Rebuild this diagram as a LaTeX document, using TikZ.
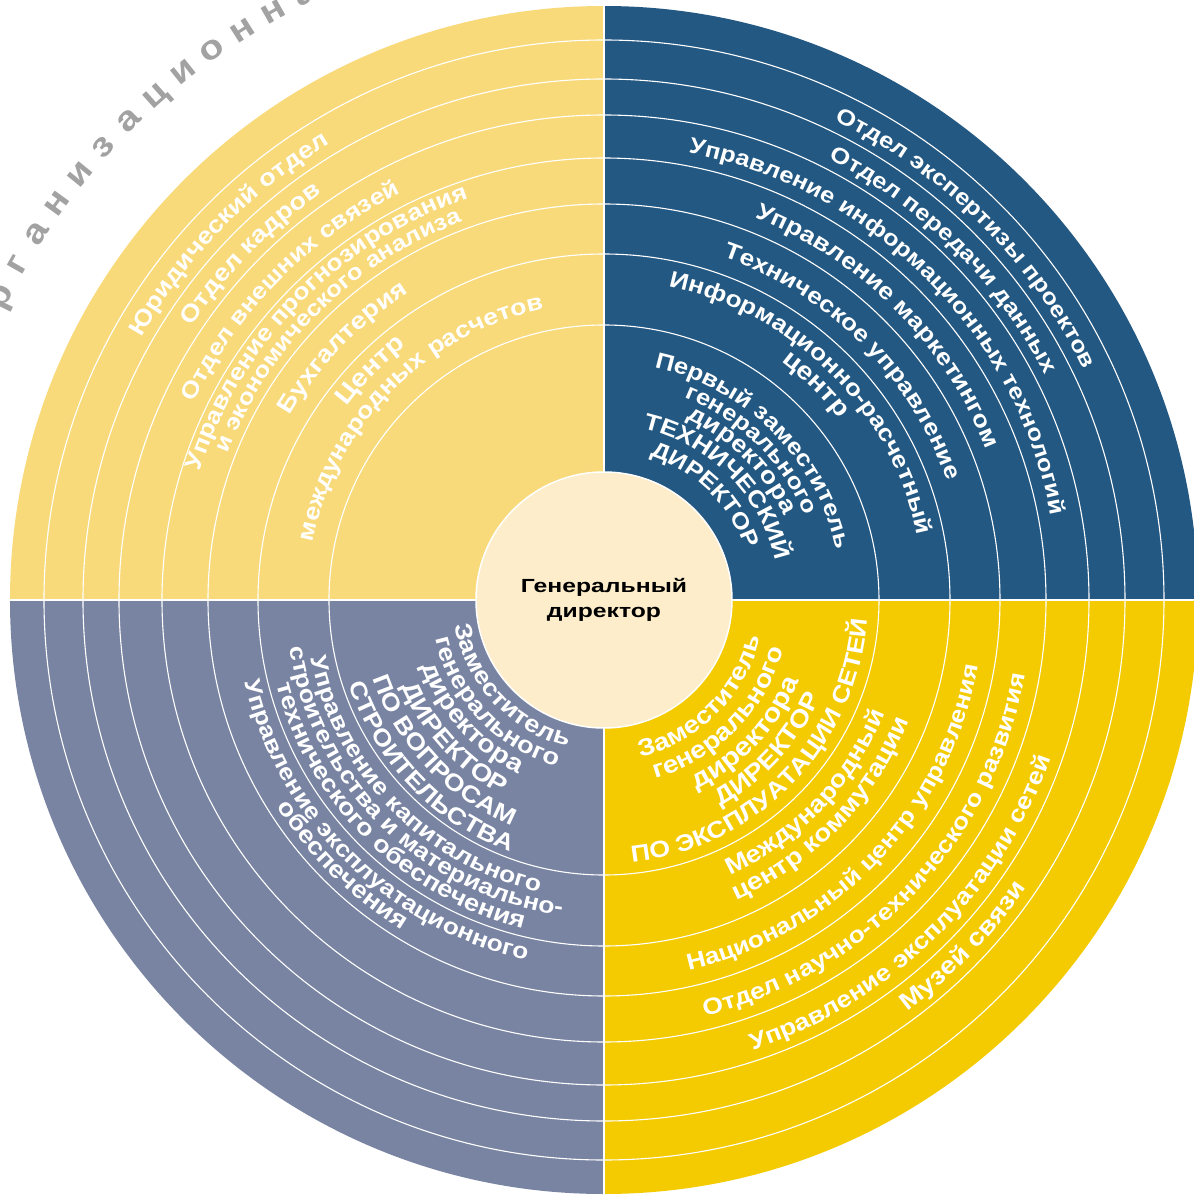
\documentclass[tikz,border=0pt]{standalone}
\usepackage{fontspec}
\setmainfont{Liberation Sans}
\newfontfamily\lbl{Liberation Sans}[FakeStretch=1.15]
\newfontfamily\ctr{Liberation Sans}[FakeStretch=1.3]
\usetikzlibrary{decorations.text}
\definecolor{qTL}{HTML}{F8DA7B}
\definecolor{qTR}{HTML}{235882}
\definecolor{qBR}{HTML}{F4CB00}
\definecolor{qBL}{HTML}{7884A2}
\definecolor{core}{HTML}{FDEDCA}
\definecolor{ttl}{HTML}{A2A2A2}
\newdimen\lblw
\newbox\lblbox
% #1 centre angle, #2 baseline radius, #3 target width, #4 1 = clockwise (tops out), -1 = counter-clockwise (tops in), #5 text
\newcommand\arclab[5]{%
  \setbox\lblbox=\hbox{\pgfinterruptpicture\lbl\bfseries\fontsize{10}{12}\selectfont #5\endpgfinterruptpicture}%
  \lblw=\wd\lblbox
  \ifdim\lblw<1pt \lblw=150pt\fi
  \pgfmathsetmacro\lfs{10*#3/\the\lblw}%
  \pgfmathsetmacro\lhs{(#3/#2)*90/pi + 12}%
  \pgfmathsetmacro\lsa{#1 + #4*\lhs}%
  \pgfmathsetmacro\lea{#1 - #4*\lhs}%
  \path[decorate, decoration={text along path, text align=center,
     text={|\lbl\bfseries\fontsize{\lfs}{\lfs}\selectfont\color{white}|#5}}]
     (\lsa:#2) arc[start angle=\lsa, end angle=\lea, radius=#2];
}
\tikzset{
  ringline/.style={white, line width=1.1pt},
  sepline/.style={white, line width=2.5pt},
  titlechar/.style={text=ttl, font=\lbl\bfseries\fontsize{34}{34}\selectfont, anchor=base, inner sep=0pt}
}
\begin{document}
\begin{tikzpicture}[x=1pt,y=1pt]
\useasboundingbox (-604,-595) rectangle (590,600);
\clip (-604,-595) rectangle (590,600);
% quadrants
\fill[qTL] (0,0) -- (180:594) arc[start angle=180, end angle=90, radius=594] -- cycle;
\fill[qTR] (0,0) -- (90:594) arc[start angle=90, end angle=0, radius=594] -- cycle;
\fill[qBR] (0,0) -- (0:594) arc[start angle=0, end angle=-90, radius=594] -- cycle;
\fill[qBL] (0,0) -- (-90:594) arc[start angle=-90, end angle=-180, radius=594] -- cycle;
% rings
\foreach \r in {275,346,396,442,485,521,560} \draw[ringline] (0,0) circle[radius=\r];
\draw[sepline] (-596,0) -- (596,0);
\draw[sepline] (0,-596) -- (0,596);
% centre
\node[circle, fill=core, draw=white, line width=1.5pt, minimum size=256pt, inner sep=0pt,
      align=center, font=\ctr\bfseries\fontsize{19}{25}\selectfont] (gd) at (0,0)
      {Генеральный\\директор};
% top-right
\arclab{45}{532}{358}{1}{Отдел экспертизы проектов}
\arclab{45}{495}{310}{1}{Отдел передачи данных}
\arclab{45}{455}{541}{1}{Управление информационных технологий}
\arclab{45}{411}{334}{1}{Управление маркетингом}
\arclab{45}{363}{325}{1}{Техническое управление}
\arclab{45}{320}{371}{1}{Информационно-расчетный}
\arclab{45.5}{297}{82}{1}{центр}
\arclab{45}{238}{272}{1}{Первый заместитель}
\arclab{45.5}{218}{174}{1}{генерального}
\arclab{45.3}{199}{140}{1}{директора}
\arclab{45}{176}{198}{1}{ТЕХНИЧЕСКИЙ}
\arclab{46}{151}{139}{1}{ДИРЕКТОР}
% top-left
\arclab{135.7}{532}{272}{1}{Юридический отдел}
\arclab{135.6}{495}{187}{1}{Отдел кадров}
\arclab{135.4}{455}{299}{1}{Отдел внешних связей}
\arclab{135.5}{424}{395}{1}{Управление прогнозирования}
\arclab{134.7}{404}{338}{1}{и экономического анализа}
\arclab{136}{364}{173}{1}{Бухгалтерия}
\arclab{135.5}{322}{86}{1}{Центр}
\arclab{135.2}{297}{346}{1}{международных расчетов}
% bottom-right
\arclab{-45.2}{161}{178}{-1}{Заместитель}
\arclab{-44.7}{186}{190}{-1}{генерального}
\arclab{-43.2}{211}{153}{-1}{директора}
\arclab{-42.4}{237}{151}{-1}{ДИРЕКТОР}
\arclab{-44}{264}{362}{-1}{ПО ЭКСПЛУАТАЦИИ СЕТЕЙ}
\arclab{-43.7}{303}{229}{-1}{Международный}
\arclab{-43.9}{328}{255}{-1}{центр коммутации}
\arclab{-43.5}{380}{445}{-1}{Национальный центр управления}
\arclab{-43.2}{428}{494}{-1}{Отдел научно-технического развития}
\arclab{-45.6}{474}{429}{-1}{Управление эксплуатации сетей}
\arclab{-43.9}{511}{172}{-1}{Музей связи}
% bottom-left
\arclab{222.9}{151}{175}{-1}{Заместитель}
\arclab{223.4}{173}{185}{-1}{генерального}
\arclab{221.8}{194}{148}{-1}{директора}
\arclab{222.7}{220}{151}{-1}{ДИРЕКТОР}
\arclab{223.3}{244}{207}{-1}{ПО ВОПРОСАМ}
\arclab{224}{269}{237}{-1}{СТРОИТЕЛЬСТВА}
\arclab{224.3}{299}{344}{-1}{Управление капитального}
\arclab{225.5}{318}{409}{-1}{строительства и материально-}
\arclab{225.3}{338}{361}{-1}{технического обеспечения}
\arclab{225.3}{368}{415}{-1}{Управление эксплуатационного}
\arclab{225.4}{387}{176}{-1}{обеспечения}
% title
\foreach \ch [count=\i from 0] in {о,р,г,а,н,и,з,а,ц,и,о,н,н,а,я} {
  \pgfmathsetmacro\tang{156.4-3.09*\i}
  \node[titlechar, rotate=\tang-90] (title\i) at (\tang:666) {\ch};
}
\end{tikzpicture}
\end{document}
